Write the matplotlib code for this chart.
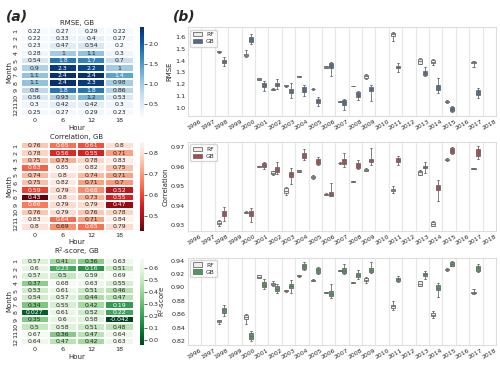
import numpy as np
import matplotlib.pyplot as plt
import seaborn as sns
from matplotlib.patches import Patch

sns.set_style("whitegrid")
plt.rcParams['font.family'] = ['DejaVu Sans']

# Heatmap data (rows: months 1-12, columns: hours 0, 6, 12, 18)
months = [str(m) for m in range(1, 13)]
hours = ["0", "6", "12", "18"]

rmse_gb = [
    [0.22, 0.27, 0.29, 0.22],
    [0.22, 0.33, 0.4, 0.27],
    [0.23, 0.47, 0.54, 0.2],
    [0.28, 1.0, 1.1, 0.3],
    [0.54, 1.8, 1.7, 0.7],
    [0.9, 2.3, 2.2, 1.0],
    [1.1, 2.4, 2.4, 1.4],
    [1.1, 2.4, 2.3, 0.98],
    [0.8, 1.8, 1.8, 0.86],
    [0.56, 0.93, 1.2, 0.53],
    [0.3, 0.42, 0.42, 0.3],
    [0.25, 0.27, 0.29, 0.23],
]
corr_gb = [
    [0.76, 0.65, 0.61, 0.8],
    [0.78, 0.56, 0.55, 0.71],
    [0.75, 0.73, 0.78, 0.83],
    [0.63, 0.85, 0.82, 0.75],
    [0.74, 0.8, 0.74, 0.71],
    [0.75, 0.82, 0.71, 0.7],
    [0.59, 0.79, 0.68, 0.52],
    [0.43, 0.8, 0.73, 0.55],
    [0.66, 0.79, 0.79, 0.47],
    [0.76, 0.79, 0.76, 0.78],
    [0.83, 0.64, 0.71, 0.84],
    [0.8, 0.69, 0.65, 0.79],
]
r2_gb = [
    [0.57, 0.41, 0.36, 0.63],
    [0.6, 0.23, 0.16, 0.51],
    [0.57, 0.5, 0.59, 0.69],
    [0.37, 0.68, 0.63, 0.55],
    [0.53, 0.61, 0.51, 0.46],
    [0.54, 0.57, 0.44, 0.47],
    [0.34, 0.55, 0.42, 0.19],
    [0.027, 0.61, 0.52, 0.22],
    [0.35, 0.6, 0.58, -0.042],
    [0.5, 0.58, 0.51, 0.48],
    [0.67, 0.36, 0.47, 0.64],
    [0.64, 0.47, 0.42, 0.63],
]

# Boxplot data: (whisker low, q1, median, q3, whisker high) per year
years = list(range(1996, 2019))
data_years = [1998, 2000, 2001, 2002, 2003, 2004, 2005, 2006,
              2007, 2008, 2009, 2011, 2013, 2014, 2015, 2017]

rmse_rf = [
    (1.468, 1.471, 1.475, 1.479, 1.482), (1.432, 1.444, 1.452, 1.46, 1.495),
    (1.236, 1.238, 1.246, 1.253, 1.255), (1.15, 1.155, 1.158, 1.162, 1.166),
    (1.18, 1.186, 1.189, 1.192, 1.196), (1.258, 1.26, 1.266, 1.272, 1.274),
    (1.148, 1.156, 1.16, 1.164, 1.168), (1.338, 1.342, 1.349, 1.354, 1.357),
    (1.046, 1.049, 1.053, 1.056, 1.058), (1.183, 1.185, 1.186, 1.188, 1.189),
    (1.245, 1.256, 1.269, 1.28, 1.29), (1.566, 1.612, 1.623, 1.634, 1.647),
    (1.372, 1.376, 1.397, 1.418, 1.42), (1.366, 1.378, 1.392, 1.405, 1.417),
    (1.044, 1.048, 1.052, 1.057, 1.066), (1.349, 1.38, 1.386, 1.392, 1.4),
]
rmse_gb_box = [
    (1.357, 1.38, 1.394, 1.405, 1.43), (1.543, 1.557, 1.58, 1.603, 1.623),
    (1.143, 1.175, 1.192, 1.209, 1.226), (1.158, 1.183, 1.2, 1.215, 1.243),
    (1.087, 1.123, 1.143, 1.163, 1.209), (1.103, 1.134, 1.154, 1.174, 1.197),
    (1.014, 1.04, 1.058, 1.075, 1.089), (1.266, 1.338, 1.36, 1.38, 1.391),
    (0.98, 1.026, 1.046, 1.066, 1.077), (1.064, 1.093, 1.114, 1.132, 1.146),
    (1.062, 1.141, 1.158, 1.175, 1.195), (1.3, 1.334, 1.346, 1.357, 1.377),
    (1.266, 1.28, 1.295, 1.309, 1.343), (1.13, 1.155, 1.175, 1.195, 1.252),
    (0.963, 0.969, 0.986, 1.003, 1.014), (1.083, 1.106, 1.13, 1.152, 1.172),
]
corr_rf = [
    (0.9296, 0.9305, 0.9313, 0.9322, 0.9327), (0.9362, 0.9364, 0.9367, 0.937, 0.9373),
    (0.9598, 0.96, 0.9601, 0.9602, 0.9604), (0.9555, 0.956, 0.9568, 0.9577, 0.958),
    (0.9455, 0.9466, 0.9476, 0.9488, 0.9498), (0.9572, 0.9574, 0.9578, 0.9583, 0.9585),
    (0.9538, 0.9541, 0.9546, 0.9551, 0.9556), (0.9456, 0.9457, 0.9459, 0.9462, 0.9463),
    (0.9614, 0.9616, 0.9618, 0.962, 0.9622), (0.9522, 0.9523, 0.9524, 0.9525, 0.9526),
    (0.9577, 0.958, 0.9584, 0.9588, 0.9591), (0.9467, 0.9477, 0.9481, 0.9486, 0.95),
    (0.9556, 0.9558, 0.957, 0.958, 0.9582), (0.9294, 0.9296, 0.9308, 0.9318, 0.932),
    (0.963, 0.9632, 0.9636, 0.964, 0.9642), (0.9587, 0.9588, 0.959, 0.9592, 0.9593),
]
corr_gb_box = [
    (0.9322, 0.9348, 0.936, 0.9372, 0.9395), (0.9318, 0.9348, 0.936, 0.9372, 0.939),
    (0.9589, 0.9599, 0.9609, 0.9618, 0.9626), (0.9563, 0.9572, 0.9585, 0.9597, 0.9623),
    (0.9513, 0.9549, 0.9562, 0.9573, 0.9595), (0.9635, 0.9645, 0.9657, 0.9669, 0.969),
    (0.9606, 0.9614, 0.9626, 0.9638, 0.9647), (0.9449, 0.9449, 0.9459, 0.9469, 0.9518),
    (0.9599, 0.9613, 0.9626, 0.964, 0.9672), (0.9587, 0.9592, 0.9606, 0.962, 0.9635),
    (0.9609, 0.9623, 0.9631, 0.964, 0.9695), (0.9606, 0.9625, 0.9635, 0.9645, 0.9654),
    (0.9567, 0.9593, 0.9597, 0.9601, 0.9621), (0.9426, 0.9481, 0.9495, 0.9508, 0.9529),
    (0.9662, 0.9671, 0.9683, 0.9693, 0.97), (0.964, 0.9654, 0.9671, 0.9688, 0.9703),
]
r2_rf = [
    (0.846, 0.8476, 0.8495, 0.851, 0.852), (0.846, 0.853, 0.8555, 0.8586, 0.861),
    (0.914, 0.914, 0.916, 0.918, 0.918), (0.902, 0.9035, 0.905, 0.9065, 0.909),
    (0.8935, 0.894, 0.8946, 0.8955, 0.896), (0.916, 0.9168, 0.9175, 0.918, 0.919),
    (0.909, 0.9103, 0.911, 0.9117, 0.913), (0.892, 0.8922, 0.8926, 0.893, 0.8935),
    (0.924, 0.9245, 0.925, 0.9255, 0.926), (0.906, 0.9065, 0.907, 0.9075, 0.908),
    (0.907, 0.909, 0.9115, 0.914, 0.9156), (0.867, 0.8695, 0.8716, 0.8735, 0.88),
    (0.902, 0.9025, 0.9055, 0.909, 0.91), (0.8545, 0.8566, 0.859, 0.8615, 0.8645),
    (0.924, 0.926, 0.927, 0.928, 0.9295), (0.8905, 0.891, 0.892, 0.893, 0.897),
]
r2_gb_box = [
    (0.8575, 0.862, 0.8656, 0.869, 0.8735), (0.8196, 0.8236, 0.8275, 0.8326, 0.8356),
    (0.8976, 0.9, 0.904, 0.9076, 0.9126), (0.892, 0.8946, 0.898, 0.9016, 0.9046),
    (0.891, 0.899, 0.9025, 0.9055, 0.911), (0.926, 0.928, 0.9316, 0.9346, 0.9376),
    (0.92, 0.922, 0.9256, 0.9286, 0.931), (0.8845, 0.8866, 0.8905, 0.8946, 0.905),
    (0.9205, 0.9215, 0.925, 0.9286, 0.9346), (0.912, 0.915, 0.9186, 0.922, 0.9256),
    (0.921, 0.9235, 0.9265, 0.9295, 0.9385), (0.9085, 0.91, 0.912, 0.9136, 0.9166),
    (0.912, 0.917, 0.9196, 0.922, 0.924), (0.886, 0.8956, 0.8995, 0.9036, 0.907),
    (0.9316, 0.9325, 0.9355, 0.9385, 0.94), (0.9226, 0.925, 0.9285, 0.932, 0.9346),
]

fs = 4.6
fig = plt.figure(figsize=(5, 3.65), dpi=100)

rows = [(0.682, 0.243), (0.368, 0.243), (0.054, 0.240)]

# Heatmaps
heat = [
    (rmse_gb, "Blues", "RMSE, GB", [0.5, 1.0, 1.5, 2.0]),
    (corr_gb, "Reds_r", "Correlation, GB", [0.5, 0.6, 0.7, 0.8]),
    (r2_gb, "Greens_r", "R$^2$-score, GB", [0.0, 0.1, 0.2, 0.3, 0.4, 0.5, 0.6]),
]
for (vals, cmap, title, cticks), (b, h) in zip(heat, rows):
    ax = fig.add_axes([0.041, b, 0.226, h])
    cax = fig.add_axes([0.279, b, 0.009, h])
    sns.heatmap(np.array(vals), ax=ax, cbar_ax=cax, cmap=cmap, annot=True,
                annot_kws={"size": 4.4}, linewidths=0.3, linecolor="white",
                xticklabels=hours, yticklabels=months)
    ax.set_title(title, fontsize=fs + 0.4, pad=2)
    ax.set_xlabel("Hour", fontsize=fs + 0.4, labelpad=1)
    ax.set_ylabel("Month", fontsize=fs + 0.4, labelpad=1)
    ax.tick_params(labelsize=fs, length=0, pad=1.5)
    plt.setp(ax.get_yticklabels(), rotation=90, va="center")
    cax.set_yticks(cticks)
    cax.tick_params(labelsize=fs, length=2, width=0.5, pad=1)

# Boxplots
def stats_list(boxes):
    return [dict(whislo=b[0], q1=b[1], med=b[2], q3=b[3], whishi=b[4], fliers=[])
            for b in boxes]

panels = [
    (rmse_rf, rmse_gb_box, "#4a6a98", "RMSE", np.arange(1.0, 1.61, 0.1), (0.93, 1.683), "{:.1f}"),
    (corr_rf, corr_gb_box, "#b04a4c", "Correlation", np.arange(0.93, 0.971, 0.01), (0.9272, 0.9726), "{:.2f}"),
    (r2_rf, r2_gb_box, "#4c9a5c", "R$^2$-score", np.arange(0.82, 0.941, 0.02), (0.8135, 0.9445), "{:.2f}"),
]
rf_color = "#eeeeee"
edge = "#6b6b6b"
for (rf, gb, gcol, ylab, yt, ylim, fmt), (b, h) in zip(panels, rows):
    ax = fig.add_axes([0.376, b, 0.616, h])
    idx = np.array([years.index(y) for y in data_years])
    for boxes, off, col in [(rf, -0.18, rf_color), (gb, 0.18, gcol)]:
        ax.bxp(stats_list(boxes), positions=idx + off, widths=0.3,
               patch_artist=True, showfliers=False, manage_ticks=False,
               boxprops=dict(facecolor=col, edgecolor=edge, linewidth=0.6),
               medianprops=dict(color=edge, linewidth=0.6),
               whiskerprops=dict(color=edge, linewidth=0.6),
               capprops=dict(color=edge, linewidth=0.6))
    ax.grid(False)
    for i in range(len(years) - 1):
        ax.axvline(i + 0.5, color="#e6e6e6", lw=0.8, zorder=0)
    ax.set_xlim(-0.5, len(years) - 0.5)
    ax.set_ylim(*ylim)
    ax.set_xticks(range(len(years)))
    ax.set_xticklabels([str(y) for y in years], rotation=30, fontsize=fs - 0.2)
    ax.set_yticks(yt)
    ax.set_yticklabels([fmt.format(v) for v in yt], fontsize=fs)
    ax.set_ylabel(ylab, fontsize=fs + 0.4, labelpad=2)
    ax.tick_params(length=0, pad=2)
    for s in ax.spines.values():
        s.set_color("#dddddd")
        s.set_linewidth(0.8)
    handles = [Patch(facecolor=rf_color, edgecolor=edge, linewidth=0.6, label="RF"),
               Patch(facecolor=gcol, edgecolor=edge, linewidth=0.6, label="GB")]
    ax.legend(handles=handles, loc="upper left", fontsize=4.3, frameon=True,
              handlelength=1.6, handleheight=0.7, borderpad=0.4, labelspacing=0.3,
              handletextpad=0.6, borderaxespad=0.4)

fig.text(0.012, 0.975, "(a)", fontsize=10, fontweight="bold", fontstyle="italic", va="top")
fig.text(0.345, 0.975, "(b)", fontsize=10, fontweight="bold", fontstyle="italic", va="top")

fig.savefig("out.png", dpi=100)
